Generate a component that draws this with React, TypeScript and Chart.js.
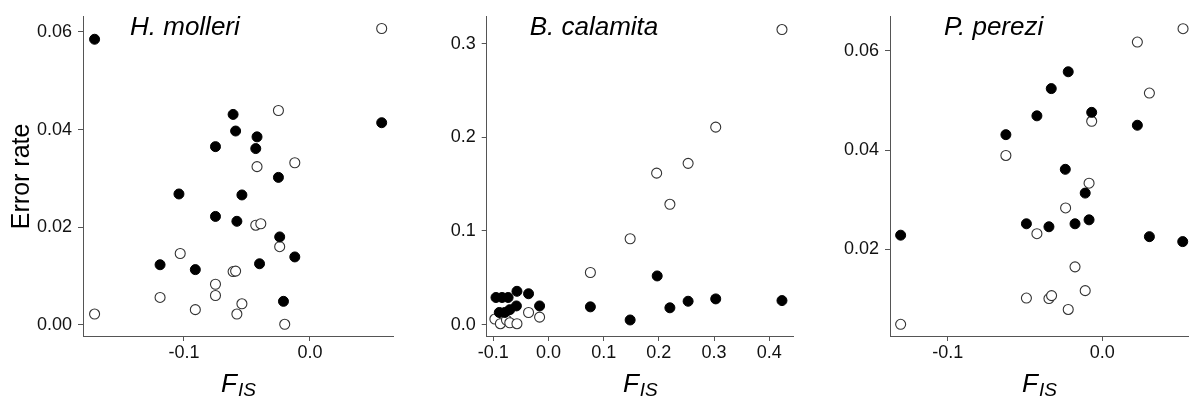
import React, { useEffect, useRef } from "react";
import { Chart, registerables } from "chart.js";

Chart.register(...registerables);

// ---------- Data ----------
// H. molleri
const hmFilledX = [-0.171, -0.061, -0.059, -0.042, -0.075, -0.043, -0.025, -0.104, -0.054, -0.075, -0.058, -0.024, -0.012, -0.119, -0.091, -0.040, -0.021, 0.057];
const hmFilledY = [0.0585, 0.0431, 0.0397, 0.0385, 0.0365, 0.0361, 0.0302, 0.0268, 0.0266, 0.0222, 0.0212, 0.0180, 0.0139, 0.0123, 0.0113, 0.0125, 0.0048, 0.0414];
const hmOpenX = [-0.025, -0.042, -0.012, -0.043, -0.039, -0.024, -0.103, -0.061, -0.059, -0.075, -0.075, -0.119, -0.091, -0.054, -0.058, -0.171, -0.020, 0.057];
const hmOpenY = [0.0439, 0.0324, 0.0332, 0.0204, 0.0207, 0.0160, 0.0146, 0.0109, 0.0110, 0.0083, 0.0060, 0.0056, 0.0031, 0.0043, 0.0022, 0.0022, 0.0001, 0.0607];

// B. calamita
const bcFilledX = [-0.095, -0.084, -0.073, -0.057, -0.036, -0.089, -0.079, -0.070, -0.058, -0.016, 0.076, 0.148, 0.197, 0.220, 0.253, 0.303, 0.423];
const bcFilledY = [0.029, 0.029, 0.029, 0.0356, 0.033, 0.013, 0.013, 0.016, 0.020, 0.020, 0.019, 0.005, 0.052, 0.018, 0.025, 0.0275, 0.0257];
const bcOpenX = [-0.097, -0.087, -0.076, -0.070, -0.057, -0.036, -0.016, 0.076, 0.148, 0.196, 0.220, 0.253, 0.303, 0.423];
const bcOpenY = [0.006, 0.001, 0.005, 0.002, 0.001, 0.013, 0.008, 0.0557, 0.0917, 0.1617, 0.1285, 0.1722, 0.2108, 0.315];

// P. perezi
const ppFilledX = [-0.1306, -0.0491, -0.0345, -0.0176, -0.0085, -0.0110, 0.0306, 0.0522, -0.0624, -0.0423, -0.0330, -0.0220, -0.0068, 0.0228, -0.0239];
const ppFilledY = [0.0228, 0.0251, 0.0245, 0.0251, 0.0259, 0.0313, 0.0225, 0.0215, 0.0431, 0.0469, 0.0524, 0.0558, 0.0476, 0.0450, 0.0361];
const ppOpenX = [-0.1306, -0.0491, -0.0345, -0.0328, -0.0220, -0.0176, -0.0110, -0.0423, -0.0237, -0.0085, -0.0624, -0.0068, 0.0306, 0.0228, 0.0524];
const ppOpenY = [0.0048, 0.0101, 0.0100, 0.0106, 0.0078, 0.0164, 0.0116, 0.0231, 0.0283, 0.0333, 0.0389, 0.0458, 0.0515, 0.0618, 0.0645];

// Ticks
const hmXTicks = [-0.1, 0.0];
const hmYTicks = [0.0, 0.02, 0.04, 0.06];
const bcXTicks = [-0.1, 0.0, 0.1, 0.2, 0.3, 0.4];
const bcYTicks = [0.0, 0.1, 0.2, 0.3];
const ppXTicks = [-0.1, 0.0];
const ppYTicks = [0.02, 0.04, 0.06];

const speciesNames = ["H. molleri", "B. calamita", "P. perezi"];
const yAxisTitle = "Error rate";
const xTitleMain = "F";
const xTitleSub = "IS";

const FONT = "'Liberation Sans', Arial, Helvetica, sans-serif";
const CANVAS_H = 403;

type Panel = {
  title: string;
  fx: number[]; fy: number[]; ox: number[]; oy: number[];
  xTicks: number[]; yTicks: number[]; xDec: number; yDec: number;
  xMin: number; xMax: number; yMin: number; yMax: number;
  canvasLeft: number; canvasWidth: number;
  areaLeft: number; areaRight: number;
  titleOffset: number; showYTitle: boolean;
};

const AREA_TOP = 14;
const AREA_BOTTOM = 336;

const panels: Panel[] = [
  {
    title: speciesNames[0], fx: hmFilledX, fy: hmFilledY, ox: hmOpenX, oy: hmOpenY,
    xTicks: hmXTicks, yTicks: hmYTicks, xDec: 1, yDec: 2,
    xMin: -0.1802, xMax: 0.0667, yMin: -0.0023, yMax: 0.0631,
    canvasLeft: 0, canvasWidth: 400, areaLeft: 83, areaRight: 395,
    titleOffset: 47, showYTitle: true,
  },
  {
    title: speciesNames[1], fx: bcFilledX, fy: bcFilledY, ox: bcOpenX, oy: bcOpenY,
    xTicks: bcXTicks, yTicks: bcYTicks, xDec: 1, yDec: 1,
    xMin: -0.1118, xMax: 0.4446, yMin: -0.0121, yMax: 0.3286,
    canvasLeft: 400, canvasWidth: 400, areaLeft: 486.7, areaRight: 798.3,
    titleOffset: 43, showYTitle: false,
  },
  {
    title: speciesNames[2], fx: ppFilledX, fy: ppFilledY, ox: ppOpenX, oy: ppOpenY,
    xTicks: ppXTicks, yTicks: ppYTicks, xDec: 1, yDec: 2,
    xMin: -0.1375, xMax: 0.0562, yMin: 0.00244, yMax: 0.0669,
    canvasLeft: 800, canvasWidth: 395, areaLeft: 890, areaRight: 1195,
    titleOffset: 54, showYTitle: false,
  },
];

const toPoints = (xs: number[], ys: number[]) => xs.map((x, i) => ({ x, y: ys[i] }));

function PanelChart({ p }: { p: Panel }) {
  const ref = useRef<HTMLCanvasElement | null>(null);
  useEffect(() => {
    if (!ref.current) return;
    const yAxisWidth = p.areaLeft - p.canvasLeft;
    const padRight = p.canvasLeft + p.canvasWidth - p.areaRight;
    const xAxisHeight = CANVAS_H - AREA_BOTTOM;

    const annot = {
      id: "panelText",
      afterDraw(chart: any) {
        const ctx = chart.ctx;
        const ca = chart.chartArea;
        ctx.save();
        ctx.fillStyle = "#000";
        ctx.textBaseline = "alphabetic";
        ctx.textAlign = "left";
        ctx.font = `italic 26px ${FONT}`;
        ctx.fillText(p.title, ca.left + p.titleOffset, 35);
        // x title F_IS
        ctx.font = `italic 26px ${FONT}`;
        const wF = ctx.measureText(xTitleMain).width;
        ctx.font = `italic 19px ${FONT}`;
        const wS = ctx.measureText(xTitleSub).width;
        const total = wF + 1 + wS;
        const cx = (ca.left + ca.right) / 2;
        const x0 = cx - total / 2;
        ctx.font = `italic 26px ${FONT}`;
        ctx.fillText(xTitleMain, x0, 391.5);
        ctx.font = `italic 19px ${FONT}`;
        ctx.fillText(xTitleSub, x0 + wF + 1, 395.5);
        ctx.restore();
      },
    };

    const axisColor = "#555";
    const chart = new Chart(ref.current, {
      type: "scatter",
      data: {
        datasets: [
          {
            label: "filled",
            data: toPoints(p.fx, p.fy),
            pointRadius: 5,
            pointBorderWidth: 1,
            pointBackgroundColor: "#000",
            pointBorderColor: "#000",
            clip: false,
            order: 1,
          },
          {
            label: "open",
            data: toPoints(p.ox, p.oy),
            pointRadius: 5,
            pointBorderWidth: 1.1,
            pointBackgroundColor: "#fff",
            pointBorderColor: "#333",
            clip: false,
            order: 2,
          },
        ],
      },
      options: {
        responsive: false,
        animation: false,
        devicePixelRatio: 1,
        events: [],
        layout: { padding: { top: AREA_TOP, right: padRight, left: 0, bottom: 0 } },
        plugins: { legend: { display: false }, tooltip: { enabled: false }, title: { display: false } },
        scales: {
          x: {
            type: "linear",
            min: p.xMin,
            max: p.xMax,
            grid: { display: true, drawOnChartArea: false, drawTicks: true, tickLength: 5, color: axisColor, lineWidth: 1 },
            border: { display: true, color: axisColor, width: 1 },
            ticks: {
              autoSkip: false,
              maxRotation: 0,
              padding: 1,
              color: "#111",
              font: { family: FONT, size: 18 },
              callback: (v: any) => Number(v).toFixed(p.xDec),
            },
            afterBuildTicks: (axis: any) => { axis.ticks = p.xTicks.map((v) => ({ value: v })); },
            afterFit: (axis: any) => { axis.height = xAxisHeight; },
          },
          y: {
            type: "linear",
            min: p.yMin,
            max: p.yMax,
            grid: { display: true, drawOnChartArea: false, drawTicks: true, tickLength: 5, color: axisColor, lineWidth: 1 },
            border: { display: true, color: axisColor, width: 1 },
            title: {
              display: p.showYTitle,
              text: yAxisTitle,
              color: "#000",
              font: { family: FONT, size: 25 },
              padding: { top: 7, bottom: 0 },
            },
            ticks: {
              autoSkip: false,
              padding: 6,
              color: "#111",
              font: { family: FONT, size: 18 },
              callback: (v: any) => Number(v).toFixed(p.yDec),
            },
            afterBuildTicks: (axis: any) => { axis.ticks = p.yTicks.map((v) => ({ value: v })); },
            afterFit: (axis: any) => { axis.width = yAxisWidth; },
          },
        },
      },
      plugins: [annot],
    } as any);
    return () => chart.destroy();
  }, [p]);

  return (
    <canvas
      ref={ref}
      width={p.canvasWidth}
      height={CANVAS_H}
      style={{ position: "absolute", left: p.canvasLeft, top: 0, width: p.canvasWidth, height: CANVAS_H }}
    />
  );
}

export default function App() {
  return (
    <div style={{ position: "absolute", left: 0, top: 0, width: 1195, height: CANVAS_H, background: "#fff", overflow: "hidden" }}>
      {panels.map((p, i) => (
        <PanelChart key={i} p={p} />
      ))}
    </div>
  );
}
